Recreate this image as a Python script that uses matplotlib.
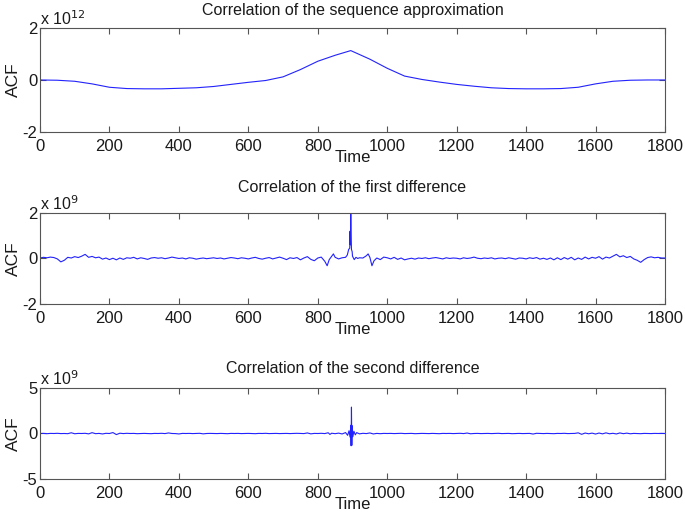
import matplotlib
matplotlib.use('Agg')
import matplotlib.pyplot as plt

plt.rcParams['font.family'] = ['Liberation Sans', 'DejaVu Sans']
plt.rcParams['axes.unicode_minus'] = False

# sequence approximation ACF (units of 1e12)
lag_seq = [0, 50, 100, 150, 200, 250, 300, 350, 400, 450, 500, 550, 600, 650, 700,
           750, 800, 850, 895, 950, 1000, 1050, 1100, 1150, 1200, 1250, 1300, 1350,
           1400, 1450, 1500, 1550, 1600, 1650, 1700, 1750, 1800]
acf_seq = [0.0, -0.01, -0.05, -0.15, -0.28, -0.33, -0.34, -0.34, -0.32, -0.30, -0.25,
           -0.17, -0.09, -0.02, 0.12, 0.40, 0.72, 0.95, 1.13, 0.80, 0.45, 0.15, 0.02,
           -0.08, -0.17, -0.24, -0.30, -0.33, -0.34, -0.34, -0.33, -0.28, -0.15, -0.05,
           -0.01, 0.0, 0.0]

# first difference ACF (units of 1e9): left part every 10 lags, centre, right part
d1_left = [0.02, 0.05, 0.03, 0.06, 0.04, -0.02, -0.15, -0.08, 0.05, 0.02,
           0.08, 0.04, 0.10, 0.18, 0.05, 0.09, 0.03, 0.06, -0.03, 0.02,
           -0.05, 0.01, -0.06, 0.02, -0.04, 0.03, 0.01, 0.05, -0.02, 0.03,
           0.00, -0.04, 0.02, 0.04, 0.01, 0.03, -0.01, 0.02, 0.06, 0.03,
           0.00, 0.02, -0.02, 0.03, 0.01, -0.03, 0.00, 0.02, -0.01, 0.01,
           0.03, 0.00, 0.02, -0.02, 0.01, 0.04, 0.02, -0.01, 0.03, 0.01,
           -0.02, 0.02, 0.05, 0.00, -0.03, 0.01, 0.04, -0.02, 0.02, 0.06,
           0.01, -0.05, 0.03, 0.00, 0.04, -0.06, 0.02, 0.08, -0.04, -0.10,
           0.02, 0.06]
d1_mid_lag = [820, 827, 833, 840, 845, 850, 860, 870, 880, 885, 889, 892, 893, 894,
              895, 896, 897, 899, 900, 905, 910, 915, 920, 930, 940, 945, 950, 956,
              962, 970, 980, 990, 1000]
d1_mid = [-0.12, -0.32, -0.05, 0.10, 0.20, 0.05, -0.02, 0.03, 0.05, 0.15, 0.40, 0.45,
          1.20, 0.60, 2.30, 1.10, 0.40, 0.30, 0.10, -0.05, 0.05, 0.00, 0.03, 0.02,
          0.12, 0.20, 0.05, -0.32, -0.10, 0.02, -0.05, 0.06, 0.03]
d1_right = [-0.02, 0.05, -0.04, 0.02, -0.06, -0.02, 0.01, -0.03, 0.02, 0.00,
            0.03, -0.01, 0.02, 0.04, 0.01, -0.02, 0.03, 0.00, 0.02, 0.01,
            -0.02, 0.03, 0.00, 0.02, 0.06, 0.01, -0.01, 0.02, 0.00, 0.03,
            -0.02, 0.01, 0.02, -0.01, 0.03, 0.00, -0.03, 0.02, 0.01, -0.02,
            0.03, 0.00, 0.04, -0.03, 0.01, -0.04, 0.02, -0.06, 0.03, -0.05,
            0.04, -0.03, 0.05, -0.06, 0.02, -0.04, 0.06, -0.02, 0.05, 0.01,
            0.08, -0.03, 0.06, 0.02, 0.10, 0.18, 0.07, 0.12, 0.04, 0.09,
            -0.02, -0.08, -0.17, -0.05, 0.04, 0.07, 0.03, 0.05, 0.02, 0.02]

# second difference ACF (units of 1e9)
d2_left = [0.00, 0.01, -0.02, 0.01, 0.00, 0.02, -0.01, 0.00, -0.02, 0.08,
           -0.03, 0.01, 0.00, 0.02, -0.04, 0.09, -0.02, 0.01, -0.05, 0.02,
           0.00, 0.10, -0.12, 0.03, -0.01, 0.02, 0.00, 0.01, -0.02, 0.00,
           0.01, 0.00, -0.02, 0.01, 0.00, 0.02, -0.01, 0.06, 0.00, -0.01,
           -0.05, 0.01, 0.00, 0.01, -0.01, 0.00, 0.02, -0.04, 0.00, 0.01,
           0.00, -0.01, 0.01, 0.00, -0.02, 0.01, 0.00, 0.01, -0.01, 0.00,
           0.01, 0.00, -0.02, 0.01, 0.00, 0.02, -0.01, 0.00, 0.01, -0.01,
           0.00, 0.01, -0.01, 0.00, 0.02, 0.00, -0.01, 0.06, -0.04, 0.01,
           0.00, 0.02, -0.01]
d2_mid_lag = [830, 835, 840, 850, 860, 870, 880, 886, 890, 893, 895, 896, 897, 898,
              899, 901, 904, 908, 912, 920, 930, 940, 950, 960, 970, 980, 990, 1000]
d2_mid = [0.08, -0.10, 0.03, -0.02, 0.04, -0.05, 0.10, -0.20, 0.30, -0.40, 0.90,
          -1.35, 2.90, -1.30, 0.85, -0.35, 0.25, -0.15, 0.10, -0.04, 0.02, -0.01,
          0.06, -0.05, 0.01, -0.02, 0.01, 0.00]
d2_right = [0.01, -0.01, 0.00, 0.02, -0.01, 0.00, 0.01, -0.02, 0.00, 0.01,
            0.00, -0.01, 0.01, 0.00, -0.02, 0.01, 0.00, 0.01, -0.01, 0.00,
            0.02, -0.01, 0.05, -0.03, 0.00, 0.01, -0.01, 0.00, 0.01, -0.01,
            0.00, 0.02, -0.01, 0.00, 0.01, -0.02, 0.00, 0.01, -0.01, 0.00,
            0.01, -0.06, 0.02, 0.00, -0.01, 0.01, 0.00, -0.02, 0.01, 0.00,
            0.02, -0.01, 0.00, 0.01, 0.07, -0.09, 0.05, -0.03, 0.04, -0.06,
            0.05, -0.04, 0.07, -0.03, 0.02, -0.05, 0.06, -0.02, 0.04, -0.03,
            0.01, 0.00, -0.02, 0.01, 0.00, -0.01, 0.01, 0.00, 0.01, 0.00]

lag_d1 = list(range(0, 820, 10)) + d1_mid_lag + list(range(1010, 1810, 10))
acf_d1 = d1_left + d1_mid + d1_right
lag_d2 = list(range(0, 830, 10)) + d2_mid_lag + list(range(1010, 1810, 10))
acf_d2 = d2_left + d2_mid + d2_right

titles = ['Correlation of the sequence approximation',
          'Correlation of the first difference',
          'Correlation of the second difference']
exponents = ['12', '9', '9']
ylims = [2, 2, 5]
xticks = [0, 200, 400, 600, 800, 1000, 1200, 1400, 1600, 1800]

fig = plt.figure(figsize=(6.85, 5.16), dpi=100)
# axes boxes [left, bottom, width, height] in figure fractions
boxes = [[0.0584, 0.7442, 0.9124, 0.2016],
         [0.0584, 0.4109, 0.9124, 0.1764],
         [0.0584, 0.0717, 0.9124, 0.1764]]
pads = [9, 15, 11]
series = [(lag_seq, acf_seq), (lag_d1, acf_d1), (lag_d2, acf_d2)]

for i in range(3):
    ax = fig.add_axes(boxes[i])
    x, y = series[i]
    ax.plot(x, y, color='#2222ff', linewidth=0.8)
    ax.set_xlim(0, 1800)
    ax.set_ylim(-ylims[i], ylims[i])
    ax.set_xticks(xticks)
    ax.set_yticks([-ylims[i], 0, ylims[i]])
    ax.tick_params(direction='in', top=True, right=True, length=4, width=0.8,
                   colors='#555555', labelcolor='#1a1a1a', labelsize=12)
    ax.tick_params(axis='x', pad=5)
    ax.tick_params(axis='y', pad=2)
    for s in ax.spines.values():
        s.set_color('#555555')
        s.set_linewidth(0.8)
    ax.set_title(titles[i], fontsize=11.5, pad=pads[i], color='#1a1a1a')
    ax.set_xlabel('Time', fontsize=12, labelpad=-3, color='#1a1a1a')
    ax.set_ylabel('ACF', fontsize=12.5, labelpad=1, color='#1a1a1a')
    ax.text(0.0, 1.0, r'x 10$^{%s}$' % exponents[i], transform=ax.transAxes,
            fontsize=11.5, ha='left', va='bottom', color='#1a1a1a')

fig.savefig('out.png', dpi=100)
